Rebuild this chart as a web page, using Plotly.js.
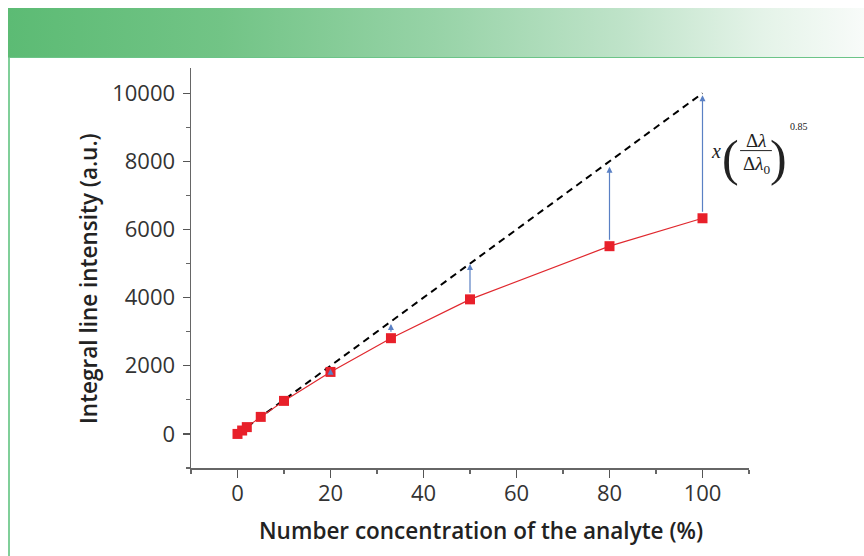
<!DOCTYPE html>
<html>
<head>
<meta charset="utf-8">
<script src="https://cdn.plot.ly/plotly-3.0.1.min.js"></script>
<style>
  html, body { margin: 0; padding: 0; background: #ffffff; }
  #wrap { position: relative; width: 864px; height: 556px; overflow: hidden; background: #ffffff; }
  #banner { position: absolute; left: 8px; top: 8px; width: 856px; height: 49px;
            background: linear-gradient(to right, #5cbb74 0%, #72c486 25%, #97d3a7 50%, #bfe3c9 72%, #e4f3e8 88%, #f8fbf9 100%); }
  #bannerline { position: absolute; left: 8px; top: 57px; width: 856px; height: 1px; background: #6cc488; }
  #leftline { position: absolute; left: 8px; top: 58px; width: 2px; height: 498px; background: #80cf99; }
  #chart { position: absolute; left: 0; top: 0; width: 864px; height: 556px; }
</style>
</head>
<body>
<div id="wrap">
  <div id="banner"></div>
  <div id="bannerline"></div>
  <div id="leftline"></div>
  <div id="chart"></div>
</div>
<script>
// ---- data ----
const concentration = [0, 1, 2, 5, 10, 20, 33, 50, 80, 100];
const intensity = [0, 100, 200, 500, 970, 1820, 2810, 3950, 5510, 6330];
const idealX = [0, 100];
const idealY = [0, 10000];
const arrowX = [20, 33, 50, 80, 100];
const arrowBase = [1820, 2810, 3950, 5510, 6330];
const arrowTip = [1910, 3230, 4990, 7840, 9940];
const xTickVals = [0, 20, 40, 60, 80, 100];
const xTickText = ['0', '20', '40', '60', '80', '100'];
const yTickVals = [0, 2000, 4000, 6000, 8000, 10000];
const yTickText = ['0', '2000', '4000', '6000', '8000', '10000'];
const xTitle = 'Number concentration of the analyte (%)';
const yTitle = 'Integral line intensity (a.u.)';

const traces = [
  {
    x: idealX, y: idealY, type: 'scatter', mode: 'lines',
    line: { color: '#000000', width: 2, dash: '7px,5px' },
    hoverinfo: 'skip', showlegend: false
  },
  {
    x: concentration, y: intensity, type: 'scatter', mode: 'lines+markers',
    line: { color: '#e0282e', width: 1.2 },
    marker: { symbol: 'square', size: 10, color: '#e8202a', line: { width: 0 } },
    showlegend: false
  }
];

const arrowAnnotations = arrowX.map((xv, i) => ({
  x: xv, y: arrowTip[i], ax: xv, ay: arrowBase[i],
  xref: 'x', yref: 'y', axref: 'x', ayref: 'y',
  text: '', showarrow: true, arrowhead: 2, arrowsize: 1, arrowwidth: 1.2,
  arrowcolor: '#5a80c4', startstandoff: i === 0 ? 0 : 5
}));

// formula label  x (Δλ/Δλ0)^0.85
const serif = '"Liberation Serif", "Times New Roman", serif';
const formula = [
  { text: '<i>x</i>', x: 0.9400, y: 0.792, size: 20 },
  { text: '(', x: 0.9677, y: 0.776, size: 50 },
  { text: 'Δ<i>λ</i>', x: 1.0134, y: 0.818, size: 19 },
  { text: 'Δ<i>λ</i><sub>0</sub>', x: 1.0140, y: 0.758, size: 19 },
  { text: ')', x: 1.0520, y: 0.776, size: 50 },
  { text: '0.85', x: 1.0890, y: 0.853, size: 10 }
].map(f => ({
  text: f.text, x: f.x, y: f.y, xref: 'paper', yref: 'paper',
  xanchor: 'center', yanchor: 'middle', showarrow: false,
  font: { family: serif, size: f.size, color: '#222222' }
}));

const tickFont = { family: '"Open Sans", sans-serif', size: 22, color: '#333333' };
const titleFont = { family: '"Open Sans", sans-serif', size: 22.5, color: '#222222', weight: 600 };

const titleAnnotations = [
  { text: xTitle, x: 0.5206, y: -0.155, xref: 'paper', yref: 'paper',
    xanchor: 'center', yanchor: 'middle', showarrow: false, font: titleFont },
  { text: yTitle, x: -0.1846, y: 0.475, xref: 'paper', yref: 'paper', textangle: -90,
    xanchor: 'center', yanchor: 'middle', showarrow: false, font: titleFont }
];

const layout = {
  width: 864, height: 556,
  margin: { l: 191, r: 115, t: 68, b: 88 },
  paper_bgcolor: 'rgba(0,0,0,0)',
  plot_bgcolor: 'rgba(0,0,0,0)',
  font: { family: '"Open Sans", sans-serif', color: '#333333' },
  showlegend: false,
  xaxis: {
    range: [-10, 110], showgrid: false, zeroline: false,
    showline: true, linecolor: '#666666', linewidth: 1.5, mirror: false,
    tickmode: 'array', tickvals: xTickVals, ticktext: xTickText,
    ticks: 'outside', ticklen: 8, tickwidth: 1.3, tickcolor: '#555555',
    ticklabelstandoff: -3,
    minor: { dtick: 10, tick0: 0, ticks: 'outside', ticklen: 4, tickwidth: 1.2, tickcolor: '#666666' },
    tickfont: tickFont
  },
  yaxis: {
    range: [-1000, 10740], showgrid: false, zeroline: false,
    showline: true, linecolor: '#666666', linewidth: 1.5, mirror: false,
    tickmode: 'array', tickvals: yTickVals, ticktext: yTickText,
    ticks: 'outside', ticklen: 7, tickwidth: 1.3, tickcolor: '#555555',
    ticklabelstandoff: 3,
    minor: { dtick: 1000, tick0: 0, ticks: 'outside', ticklen: 4, tickwidth: 1.2, tickcolor: '#666666' },
    tickfont: tickFont
  },
  shapes: [
    { type: 'line', xref: 'paper', yref: 'paper', x0: 0.984, x1: 1.041, y0: 0.7935, y1: 0.7935,
      line: { color: '#222222', width: 1 } }
  ],
  annotations: arrowAnnotations.concat(formula, titleAnnotations)
};

Plotly.newPlot('chart', traces, layout, { displayModeBar: false, staticPlot: true });
</script>
</body>
</html>
